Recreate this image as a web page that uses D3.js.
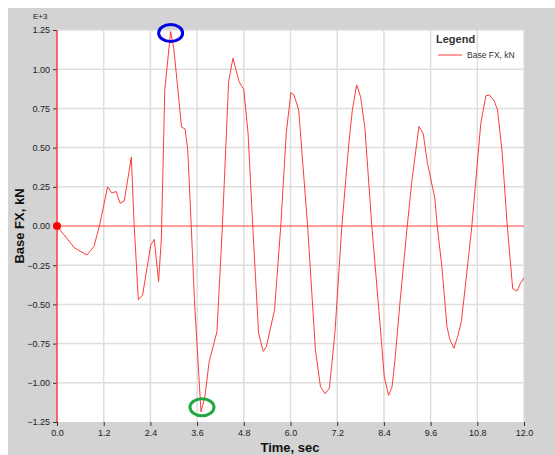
<!DOCTYPE html>
<html>
<head>
<meta charset="utf-8">
<script src="https://cdn.jsdelivr.net/npm/d3@7"></script>
<style>
  body { margin: 0; background: #fff; }
  svg { display: block; font-family: "Liberation Sans", Arial, sans-serif; }
</style>
</head>
<body>
<svg id="chart" width="555" height="455"></svg>
<script>
// time (sec) and base force (E+3 kN)
var times = [0, 0.45, 0.77, 0.95, 1.09, 1.3, 1.41, 1.52, 1.62, 1.73, 1.91, 1.98, 2.09, 2.2, 2.41, 2.5, 2.61, 2.68,
  2.77, 2.92, 3.0, 3.09, 3.2, 3.29, 3.36, 3.45, 3.53, 3.7, 3.8, 3.91, 4.11, 4.25, 4.41, 4.52, 4.68, 4.8, 4.91,
  5.03, 5.18, 5.3, 5.38, 5.59, 5.75, 5.89, 6.01, 6.09, 6.21, 6.44, 6.64, 6.77, 6.89, 7.0, 7.14, 7.32, 7.5,
  7.59, 7.7, 7.8, 7.91, 8.09, 8.32, 8.41, 8.52, 8.61, 8.68, 8.82, 9.0, 9.12, 9.3, 9.41, 9.52, 9.71, 9.77,
  9.89, 10.02, 10.09, 10.2, 10.29, 10.39, 10.53, 10.66, 10.89, 11.02, 11.11, 11.23, 11.32, 11.44, 11.57,
  11.71, 11.82, 11.91, 12.0];
var baseFX = [0, -0.14, -0.185, -0.13, 0, 0.25, 0.21, 0.22, 0.145, 0.16, 0.44, 0.02, -0.47, -0.44, -0.12, -0.085, -0.355, -0.09,
  0.87, 1.24, 1.135, 0.91, 0.63, 0.62, 0.485, 0, -0.47, -1.185, -1.09, -0.865, -0.675, 0, 0.92, 1.07, 0.92, 0.87, 0.59,
  0, -0.685, -0.8, -0.77, -0.535, 0, 0.59, 0.85, 0.836, 0.74, 0, -0.79, -1.025, -1.07, -1.035, -0.685, 0, 0.53,
  0.74, 0.9, 0.825, 0.63, 0, -0.685, -0.96, -1.08, -1.025, -0.865, -0.47, 0, 0.29, 0.635, 0.59, 0.4, 0.175, 0,
  -0.26, -0.64, -0.72, -0.78, -0.71, -0.61, -0.3, 0, 0.655, 0.83, 0.836, 0.8, 0.74, 0.465, 0,
  -0.4, -0.415, -0.365, -0.33];
var xTicks = [0, 1.2, 2.4, 3.6, 4.8, 6.0, 7.2, 8.4, 9.6, 10.8, 12.0];
var yTicks = [-1.25, -1.0, -0.75, -0.5, -0.25, 0, 0.25, 0.5, 0.75, 1.0, 1.25];

var svg = d3.select("#chart");
var plotL = 57, plotR = 524, plotT = 30, plotB = 422;
var red = "#ff3b3b";

var x = d3.scaleLinear().domain([0, 12]).range([plotL, plotR]);
var y = d3.scaleLinear().domain([-1.25, 1.25]).range([plotB, plotT]);

// grey panel + white plot area
svg.append("rect").attr("x", 8).attr("y", 8).attr("width", 547).attr("height", 447).attr("fill", "#d3d3d3");
svg.append("rect").attr("x", plotL).attr("y", plotT).attr("width", plotR - plotL).attr("height", plotB - plotT).attr("fill", "#fff");

// grid
svg.append("g").selectAll("line").data(xTicks.slice(1)).enter().append("line")
  .attr("x1", function(d) { return x(d); }).attr("x2", function(d) { return x(d); })
  .attr("y1", plotT).attr("y2", plotB)
  .attr("stroke", "#dedede").attr("stroke-width", 1.5);
svg.append("g").selectAll("line").data(yTicks.filter(function(d) { return d !== 0 && d !== -1.25; })).enter().append("line")
  .attr("x1", plotL).attr("x2", plotR)
  .attr("y1", function(d) { return y(d); }).attr("y2", function(d) { return y(d); })
  .attr("stroke", "#dedede").attr("stroke-width", 1.5);

// axes
var xAxis = svg.append("g").attr("transform", "translate(0," + plotB + ")")
  .call(d3.axisBottom(x).tickValues(xTicks).tickFormat(d3.format(".1f")).tickSize(4).tickPadding(4));
var yAxis = svg.append("g").attr("transform", "translate(" + plotL + ",0)")
  .call(d3.axisLeft(y).tickValues(yTicks).tickFormat(d3.format(".2f")).tickSize(4).tickPadding(3));
[xAxis, yAxis].forEach(function(a) {
  a.select(".domain").remove();
  a.selectAll(".tick line").attr("stroke", "#333");
  a.selectAll("text").attr("font-size", 9).attr("fill", "#222")
    .attr("font-family", "'Liberation Sans', Arial, sans-serif");
});

// red zero line and left axis line
svg.append("line").attr("x1", plotL).attr("x2", plotR).attr("y1", y(0)).attr("y2", y(0))
  .attr("stroke", red).attr("stroke-width", 1.2);
svg.append("line").attr("x1", plotL).attr("x2", plotL).attr("y1", plotT).attr("y2", plotB)
  .attr("stroke", red).attr("stroke-width", 1.5);

// series
var line = d3.line().x(function(d, i) { return x(times[i]); }).y(function(d) { return y(d); });
svg.append("path").datum(baseFX).attr("d", line)
  .attr("fill", "none").attr("stroke", red).attr("stroke-width", 1).attr("stroke-linejoin", "round");
svg.append("circle").attr("cx", x(0)).attr("cy", y(0)).attr("r", 4).attr("fill", "#ff0000");

// highlight the max and min points
var iMax = d3.maxIndex(baseFX), iMin = d3.minIndex(baseFX);
svg.append("ellipse").attr("cx", x(times[iMax])).attr("cy", y(baseFX[iMax]) + 1.5)
  .attr("rx", 12).attr("ry", 8.5).attr("fill", "none").attr("stroke", "#0000e6").attr("stroke-width", 3);
svg.append("ellipse").attr("cx", x(times[iMin]) + 1).attr("cy", y(baseFX[iMin]) - 4.5)
  .attr("rx", 12).attr("ry", 8.5).attr("fill", "none").attr("stroke", "#1fa83f").attr("stroke-width", 3);

// labels
svg.append("text").attr("x", 33).attr("y", 19).attr("font-size", 8).attr("fill", "#222").text("E+3");
svg.append("text").attr("transform", "translate(24," + y(0) + ")rotate(-90)")
  .attr("text-anchor", "middle").attr("font-size", 13).attr("font-weight", "bold").attr("fill", "#111")
  .text("Base FX,  kN");
svg.append("text").attr("x", 290).attr("y", 452).attr("text-anchor", "middle")
  .attr("font-size", 13).attr("font-weight", "bold").attr("fill", "#111").text("Time,  sec");

// legend
svg.append("text").attr("x", 436).attr("y", 43).attr("font-size", 11).attr("font-weight", "bold")
  .attr("fill", "#333").text("Legend");
svg.append("line").attr("x1", 438).attr("x2", 462).attr("y1", 55).attr("y2", 55)
  .attr("stroke", red).attr("stroke-width", 1);
svg.append("text").attr("x", 467).attr("y", 58).attr("font-size", 8.5).attr("fill", "#333").text("Base FX, kN");
</script>
</body>
</html>
